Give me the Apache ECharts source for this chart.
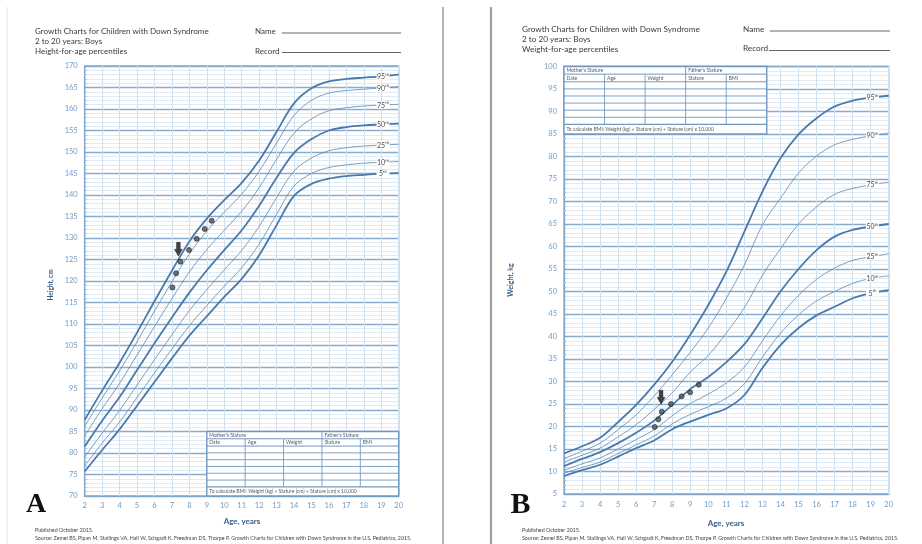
<!DOCTYPE html>
<html><head><meta charset="utf-8">
<script src="https://cdn.jsdelivr.net/npm/echarts@6/dist/echarts.min.js"></script>
<style>html,body{margin:0;padding:0;background:#fff}#c{width:922px;height:544px}</style>
</head><body><div id="c"></div>
<script>
// ---- data ----
const ages = [2,3,4,5,6,7,8,9,10,11,12,13,14,15,16,17,18,19,20];
const percentileNames = ['95','90','75','50','25','10','5'];

const height95 = [87.7, 94.5, 101, 108, 115.3, 122.4, 129.2, 134.5, 138.8, 142.8, 148, 154.7, 161.3, 164.8, 166.4, 167, 167.3, 167.6, 168];
const height90 = [86.2, 92.8, 99.1, 105.9, 113.0, 119.8, 126.3, 131.6, 136.0, 140.2, 145.5, 152.1, 158.5, 162.0, 163.7, 164.3, 164.6, 164.9, 165.2];
const height75 = [84.0, 90.3, 96.2, 102.8, 109.4, 115.9, 122.1, 127.3, 131.8, 136.2, 141.7, 148.3, 154.4, 157.7, 159.6, 160.3, 160.7, 160.9, 161.1];
const height50 = [81.5, 87.5, 93, 99.3, 105.5, 111.5, 117.3, 122.5, 127.2, 131.8, 137.5, 144, 149.8, 153, 155, 155.8, 156.2, 156.4, 156.6];
const height25 = [79.1, 84.6, 89.9, 95.8, 101.7, 107.5, 113.1, 118.0, 122.6, 127.1, 132.7, 139.4, 145.6, 148.6, 150.3, 151.0, 151.4, 151.6, 151.8];
const height10 = [77.0, 82.3, 87.2, 92.9, 98.6, 104.2, 109.6, 114.3, 118.8, 123.1, 128.6, 135.5, 142.1, 145.0, 146.4, 147.0, 147.4, 147.6, 147.8];
const height5  = [75.7, 80.7, 85.5, 91, 96.5, 102, 107.3, 111.8, 116.3, 120.5, 126, 133, 139.8, 142.6, 143.8, 144.4, 144.7, 145, 145.1];

const weight95 = [14.0, 15.6, 17.5, 21.0, 24.8, 29.3, 34.4, 40.4, 47.0, 54.4, 63.3, 72.2, 79.6, 84.9, 88.5, 91.1, 92.4, 93.1, 93.5];
const weight90 = [12.9, 14.5, 16.3, 19.3, 22.6, 26.8, 31.5, 36.5, 41.9, 48.5, 55.9, 64.8, 70.7, 76.3, 80.1, 82.6, 83.8, 84.6, 85.2];
const weight75 = [12.1, 13.6, 15.2, 17.7, 20.4, 23.8, 27.5, 32.1, 35.8, 40.8, 46.4, 53.6, 59.5, 65.0, 68.8, 71.6, 72.9, 73.7, 74.3];
const weight50 = [11.2, 12.8, 14.3, 16.3, 18.6, 21.3, 24.8, 28.3, 31, 34.3, 38.3, 44, 50, 55, 59.2, 62.2, 63.7, 64.4, 65];
const weight25 = [10.3, 11.7, 13.0, 15.0, 17.1, 19.3, 22.4, 25.1, 27.2, 29.7, 33.2, 39.0, 44.6, 49.1, 52.7, 55.2, 56.9, 57.7, 58.4];
const weight10 = [9.6, 10.9, 12.1, 14.0, 15.9, 17.9, 20.6, 22.7, 24.4, 26.3, 29.5, 35.4, 40.7, 44.8, 47.9, 50.0, 51.8, 52.9, 53.5];
const weight5  = [9.0, 10.3, 11.5, 13.3, 15.2, 16.9, 19.4, 21.1, 22.6, 24.0, 27.0, 33.0, 38.1, 41.9, 44.7, 46.6, 48.5, 49.6, 50.3];

const visitAgesH = [7.03, 7.24, 7.49, 7.98, 8.42, 8.88, 9.28];
const visitHeights = [118.5, 121.8, 124.5, 127.2, 129.8, 132.1, 134.0];
const visitAgesW = [7.03, 7.23, 7.42, 7.93, 8.52, 8.99, 9.47];
const visitWeights = [19.9, 21.6, 23.3, 25.0, 26.7, 27.6, 29.3];
const arrowH = [7.37, 127.4];
const arrowW = [7.38, 26.5];

const heightSets = [height95, height90, height75, height50, height25, height10, height5];
const weightSets = [weight95, weight90, weight75, weight50, weight25, weight10, weight5];

// ---- styling ----
const FONT = 'Lato, "Open Sans", sans-serif';
const labelAge = 19.1;
const thickSet = {'95':1, '50':1, '5':1};
const TBL = '#6f99c2';

function percentileSeries(xi, name, vals) {
  const thick = !!thickSet[name];
  const v = vals[17] + (labelAge - 19) * (vals[18] - vals[17]);
  return {
    type: 'line', xAxisIndex: xi, yAxisIndex: xi, silent: true, z: 3,
    data: ages.map((a, i) => [a, vals[i]]),
    smooth: 0.35, symbol: 'none',
    lineStyle: {color: thick ? '#4a7aab' : '#5c87b1', width: thick ? 1.8 : 0.8},
    markPoint: {
      silent: true, symbol: 'rect', symbolSize: [13, 7], itemStyle: {color: '#fff'},
      data: [{coord: [labelAge, v]}],
      label: {show: true, position: 'inside', formatter: '{n|' + name + '}{s|th}',
        rich: {n: {fontSize: 7, color: '#4a4a4a', fontFamily: FONT, lineHeight: 8, verticalAlign: 'bottom'},
               s: {fontSize: 4.2, color: '#4a4a4a', fontFamily: FONT, lineHeight: 8, verticalAlign: 'top'}}}
    }
  };
}

function tableSeries(xi, x0, x1, yLow, yHigh) {
  return {
    type: 'custom', xAxisIndex: xi, yAxisIndex: xi, silent: true, z: 4, clip: false,
    data: [[x0, yHigh]],
    renderItem: function (params, api) {
      const tl = api.coord([x0, yHigh]), br = api.coord([x1, yLow]);
      const L = tl[0], T = tl[1], R = br[0], B = br[1], W = R - L, H = B - T;
      const h1 = H * 0.113, r1 = T + h1, r2 = r1 + h1, fTop = B - H * 0.142, rh = (fTop - r2) / 6, cw = W / 5;
      const ch = [];
      ch.push({type: 'rect', shape: {x: L, y: T, width: W, height: H}, style: {fill: '#fff', stroke: TBL, lineWidth: 1.4}});
      const hl = (y, w) => ch.push({type: 'line', shape: {x1: L, y1: y, x2: R, y2: y}, style: {stroke: TBL, lineWidth: w}});
      const vl = (x, y1, y2) => ch.push({type: 'line', shape: {x1: x, y1: y1, x2: x, y2: y2}, style: {stroke: TBL, lineWidth: 0.9}});
      hl(r1, 1); hl(r2, 1);
      for (let k = 1; k <= 5; k++) hl(r2 + k * rh, 0.9);
      hl(fTop, 1.2);
      vl(L + 3 * cw, T, fTop);
      [1, 2, 4].forEach(k => vl(L + k * cw, r1, fTop));
      const t = (s, x, y) => ch.push({type: 'text', x: x, y: y, style: {text: s, fill: '#5a5a5a', fontSize: 5, fontFamily: FONT, align: 'left', verticalAlign: 'middle', textAlign: 'left', textVerticalAlign: 'middle'}});
      t("Mother's Stature", L + 2.5, (T + r1) / 2);
      t("Father's Stature", L + 3 * cw + 2.5, (T + r1) / 2);
      ['Date', 'Age', 'Weight', 'Stature', 'BMI'].forEach((s, k) => t(s, L + k * cw + 2.5, (r1 + r2) / 2));
      t('To calculate BMI: Weight (kg) ÷ Stature (cm) ÷ Stature (cm) x 10,000', L + 2.5, (fTop + B) / 2);
      return {type: 'group', children: ch};
    }
  };
}

function visitSeries(xi, xs, ys) {
  return {type: 'scatter', xAxisIndex: xi, yAxisIndex: xi, silent: true, z: 6,
    data: xs.map((a, i) => [a, ys[i]]), symbolSize: 5,
    itemStyle: {color: '#4a5058', borderColor: '#1e2228', borderWidth: 0.8}};
}
function arrowSeries(xi, pt) {
  return {type: 'scatter', xAxisIndex: xi, yAxisIndex: xi, silent: true, z: 7,
    data: [pt], symbol: 'path://M2.6,0L7.4,0L7.4,6.5L10,6.5L5,13L0,6.5L2.6,6.5Z', symbolSize: [8, 14],
    symbolKeepAspect: false,
    itemStyle: {color: '#111', borderColor: '#111', borderWidth: 0.4}};
}

function xAxisCfg(gi, margin) {
  return {type: 'value', gridIndex: gi, min: 2, max: 20, interval: 1,
    axisLine: {show: true, lineStyle: {color: '#7fa6c8', width: 1.2}},
    axisTick: {show: false},
    axisLabel: {color: '#6f9cc8', fontSize: 7.5, fontFamily: FONT, margin: margin},
    splitLine: {show: true, lineStyle: {color: '#cfe0ee', width: 1}}};
}
function yAxisCfg(gi, mn, mx) {
  return {type: 'value', gridIndex: gi, min: mn, max: mx, interval: 5,
    axisLine: {show: true, lineStyle: {color: '#7fa6c8', width: 1.2}},
    axisTick: {show: true, inside: true, length: 3, lineStyle: {color: '#7fa6c8'}},
    minorTick: {show: true, splitNumber: 5, length: 2, lineStyle: {color: '#9dbad6'}},
    axisLabel: {color: '#6f9cc8', fontSize: 7.5, fontFamily: FONT, margin: 7},
    splitLine: {show: true, lineStyle: {color: '#86abcd', width: 1.3}},
    minorSplitLine: {show: true, lineStyle: {color: '#d3e2ef', width: 0.7}}};
}

function txt(s, x, y, size, opts) {
  opts = opts || {};
  return {type: 'text', x: x, y: y, rotation: opts.rot || 0, z: 10, silent: true,
    style: {text: s, fill: opts.color || '#3a3a3a', fontSize: size, fontFamily: opts.family || FONT,
      fontWeight: opts.bold ? 'bold' : 'normal',
      align: opts.align || 'left', verticalAlign: 'middle', textAlign: opts.align || 'left', textVerticalAlign: 'middle'}};
}
function ln(x1, y1, x2, y2, c, w) {
  return {type: 'line', z: 10, silent: true, shape: {x1: x1, y1: y1, x2: x2, y2: y2}, style: {stroke: c, lineWidth: w}};
}

const sourceText = 'Source: Zemel BS, Pipan M, Stallings VA, Hall W, Schgadt K, Freedman DS, Thorpe P. Growth Charts for Children with Down Syndrome in the U.S. Pediatrics, 2015.';

const graphics = [
  ln(7, 7, 7, 544, '#e2e2e2', 1),
  ln(443, 7, 443, 544, '#9a9a9a', 1.5),
  ln(491, 7, 491, 544, '#a0a0a0', 2.2),
  // left header
  txt('Growth Charts for Children with Down Syndrome', 35, 31, 8),
  txt('2 to 20 years: Boys', 35, 41, 8),
  txt('Height-for-age percentiles', 35, 51, 8),
  txt('Name', 255, 31, 8), ln(282, 33, 401, 33, '#555', 0.9),
  txt('Record', 255, 51, 8), ln(282, 52.5, 401, 52.5, '#555', 0.9),
  // right header
  txt('Growth Charts for Children with Down Syndrome', 522, 29, 8.2),
  txt('2 to 20 years: Boys', 522, 39, 8.2),
  txt('Weight-for-age percentiles', 522, 49, 8.2),
  txt('Name', 743, 29, 8.2), ln(770, 31, 890, 31, '#555', 0.9),
  txt('Record', 743, 48.5, 8.2), ln(769, 50.5, 890, 50.5, '#555', 0.9),
  // axis names
  txt('Height, cm', 51, 285, 6.5, {rot: Math.PI / 2, bold: true, color: '#3a5f8a', align: 'center'}),
  txt('Weight, kg', 511, 280, 7, {rot: Math.PI / 2, bold: true, color: '#3a5f8a', align: 'center'}),
  txt('Age, years', 242, 521.5, 8, {bold: true, color: '#3a5f8a', align: 'center'}),
  txt('Age, years', 726, 523.5, 8, {bold: true, color: '#3a5f8a', align: 'center'}),
  // panel letters
  txt('A', 36, 505, 28, {bold: true, color: '#111', family: '"Liberation Serif", "DejaVu Serif", serif', align: 'center'}),
  txt('B', 520.5, 505, 30, {bold: true, color: '#111', family: '"Liberation Serif", "DejaVu Serif", serif', align: 'center'}),
  // footers
  txt('Published October 2015.', 35, 530.5, 5.3, {color: '#444'}),
  txt(sourceText, 35, 538.3, 5.3, {color: '#444'}),
  txt('Published October 2015.', 522, 530.5, 5.3, {color: '#444'}),
  txt(sourceText, 522, 538.3, 5.3, {color: '#444'})
];

const series = [];
percentileNames.forEach((n, i) => series.push(percentileSeries(0, n, heightSets[i])));
percentileNames.forEach((n, i) => series.push(percentileSeries(1, n, weightSets[i])));
series.push(tableSeries(0, 9, 20, 70, 85));
series.push(tableSeries(1, 2, 13.24, 85, 100));
series.push(visitSeries(0, visitAgesH, visitHeights));
series.push(visitSeries(1, visitAgesW, visitWeights));
series.push(arrowSeries(0, arrowH));
series.push(arrowSeries(1, arrowW));

const chart = echarts.init(document.getElementById('c'), null, {renderer: 'canvas'});
chart.setOption({
  animation: false,
  backgroundColor: '#fff',
  textStyle: {fontFamily: FONT},
  grid: [
    {left: 84.7, top: 66, width: 314, height: 430, show: true, borderColor: '#7fa6c8', borderWidth: 1.3, backgroundColor: 'transparent'},
    {left: 564, top: 66.5, width: 324.7, height: 427.5, show: true, borderColor: '#7fa6c8', borderWidth: 1.3, backgroundColor: 'transparent'}
  ],
  xAxis: [xAxisCfg(0, 6), xAxisCfg(1, 6.5)],
  yAxis: [yAxisCfg(0, 70, 170), yAxisCfg(1, 5, 100)],
  series: series,
  graphic: graphics
});
</script>
</body></html>
